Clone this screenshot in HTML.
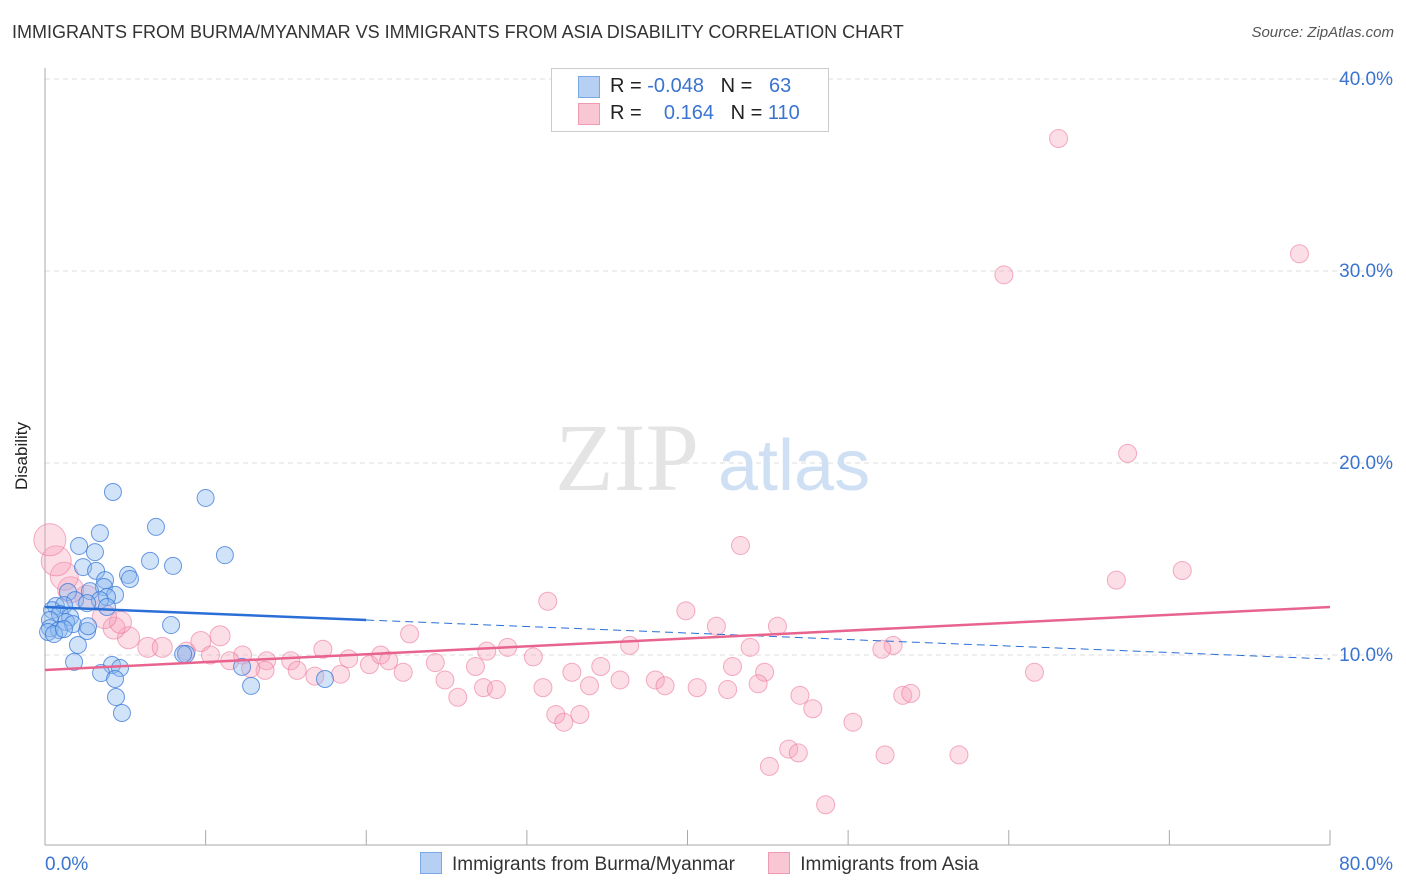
<!DOCTYPE html>
<html><head><meta charset="utf-8">
<style>
body{margin:0;background:#fff;font-family:"Liberation Sans",sans-serif;}
#wrap{position:relative;width:1406px;height:892px;overflow:hidden;}
.t{position:absolute;white-space:nowrap;}
</style></head>
<body>
<div id="wrap">
<div class="t" style="left:12px;top:22px;font-size:18px;color:#333;">IMMIGRANTS FROM BURMA/MYANMAR VS IMMIGRANTS FROM ASIA DISABILITY CORRELATION CHART</div>
<div class="t" style="right:12px;top:24px;font-size:15px;color:#555;font-style:italic;">Source: ZipAtlas.com</div>
<div class="t" style="left:-12px;top:446px;font-size:17px;color:#222;transform:rotate(-90deg);">Disability</div>
<svg id="svg" width="1406" height="892" style="position:absolute;left:0;top:0;"></svg>
<div style="position:absolute;left:551px;top:68px;width:276px;height:62px;border:1px solid #ccc;background:#fff;font-size:20px;">
 <div style="position:absolute;left:26px;top:7px;width:20px;height:20px;background:#b5d0f3;border:1px solid #7aa8e6;"></div>
 <div class="t" style="left:58px;top:6px;color:#222;">R = <span style="color:#3a74d0">-0.048</span>&nbsp;&nbsp;&nbsp;N = &nbsp;&nbsp;<span style="color:#3a74d0">63</span></div>
 <div style="position:absolute;left:26px;top:34px;width:20px;height:20px;background:#f9c6d4;border:1px solid #ee9ab2;"></div>
 <div class="t" style="left:58px;top:33px;color:#222;">R = &nbsp;&nbsp;&nbsp;<span style="color:#3a74d0">0.164</span>&nbsp;&nbsp;&nbsp;N = <span style="color:#3a74d0">110</span></div>
</div>
<div style="position:absolute;left:420px;top:852px;font-size:19px;color:#333;">
 <span style="display:inline-block;width:20px;height:20px;background:#b5d0f3;border:1px solid #7aa8e6;vertical-align:-4px;margin-right:10px;"></span><span>Immigrants from Burma/Myanmar</span>
 <span style="display:inline-block;width:20px;height:20px;background:#f9c6d4;border:1px solid #ee9ab2;vertical-align:-4px;margin:0 10px 0 28px;"></span><span>Immigrants from Asia</span>
</div>
</div>
<script>
const blueX=[4.23,10.0,6.91,3.42,11.2,2.12,3.11,6.54,7.97,2.37,3.18,5.17,5.29,3.74,3.67,1.43,2.8,4.36,3.86,1.87,3.42,2.62,0.68,1.18,3.86,0.44,0.93,1.56,0.31,1.31,1.74,0.31,0.87,0.19,0.56,1.18,2.62,2.68,7.85,2.05,4.17,1.81,3.49,4.67,8.78,12.27,4.36,4.42,4.79,12.83,17.43,8.6];
const blueY=[18.49,18.18,16.67,16.35,15.2,15.68,15.36,14.9,14.64,14.58,14.38,14.17,13.96,13.9,13.54,13.28,13.33,13.13,13.02,12.86,12.86,12.7,12.55,12.6,12.5,12.34,12.14,11.98,11.82,11.72,11.61,11.4,11.3,11.2,11.09,11.35,11.25,11.5,11.56,10.52,9.48,9.64,9.06,9.32,10.05,9.38,8.75,7.81,6.98,8.39,8.75,10.05];
const pinkX=[63.1,78.1,59.7,67.4,43.3,66.7,70.8,31.3,39.9,41.8,45.6,52.8,52.1,43.9,36.4,22.7,28.8,17.3,61.6,42.8,44.8,34.6,32.8,30.4,27.5,24.3,26.8,22.3,20.2,18.9,15.3,15.7,13.8,12.3,10.9,9.7,6.4,7.3,5.2,4.3,4.7,3.7,2.6,1.6,1.2,0.7,0.3,24.9,27.3,28.1,31.0,33.9,35.8,38.0,38.6,40.6,42.5,44.4,47.0,47.8,25.7,31.8,33.3,32.3,50.3,53.4,53.9,46.3,46.9,45.1,52.3,56.9,48.6,16.8,18.4,20.9,21.4,13.7,8.8,12.8,10.3,11.5];
const pinkY=[36.9,30.9,29.8,20.5,15.7,13.9,14.4,12.8,12.3,11.5,11.5,10.5,10.3,10.4,10.5,11.1,10.4,10.3,9.1,9.4,9.1,9.4,9.1,9.9,10.2,9.6,9.4,9.1,9.5,9.8,9.7,9.2,9.7,10.0,11.0,10.7,10.4,10.4,10.9,11.4,11.7,12.0,13.0,13.4,14.1,14.9,16.0,8.7,8.3,8.2,8.3,8.4,8.7,8.7,8.4,8.3,8.2,8.5,7.9,7.2,7.8,6.9,6.9,6.5,6.5,7.9,8.0,5.1,4.9,4.2,4.8,4.8,2.2,8.9,9.0,10.0,9.7,9.2,10.2,9.3,10.0,9.7];
const pinkR=[9,9,9,9,9,9,9,9,9,9,9,9,9,9,9,9,9,9,9,9,9,9,9,9,9,9,9,9,9,9,9,9,9,9,10,10,10,10,11,11,11,12,12,13,14,15,16,9,9,9,9,9,9,9,9,9,9,9,9,9,9,9,9,9,9,9,9,9,9,9,9,9,9,9,9,9,9,9,9,9,9,9];
const blueTrend=[12.5,9.79];
const pinkTrend=[9.22,12.5];
const yTicks=[10,20,30,40];
const xTicks=[0,10,20,30,40,50,60,70,80];

const X=v=>45+v*1285/80, Y=v=>847-v*19.2;
const svg=document.getElementById('svg');
const NS='http://www.w3.org/2000/svg';
function mk(tag,at){const e=document.createElementNS(NS,tag);for(const k in at)e.setAttribute(k,at[k]);svg.appendChild(e);return e;}
for(const t of yTicks){
 const g=mk('line',{x1:45,x2:1395,y1:Y(t),y2:Y(t),stroke:'#ddd','stroke-dasharray':'5,4'});
 
 
 const l=mk('text',{x:1393,y:Y(t)+6,'text-anchor':'end','font-size':19,fill:'#3a74d0','font-family':'Liberation Sans'});
 l.textContent=t.toFixed(1)+'%';
 
 
}
const wm=mk('text',{x:555,y:490,'font-size':96,fill:'#e4e4e4','font-family':'Liberation Serif'});wm.textContent='ZIP';


const wm2=mk('text',{x:718,y:490,'font-size':72,fill:'#cfe0f5','font-family':'Liberation Sans'});wm2.textContent='atlas';


const ya=mk('line',{x1:45,x2:45,y1:68,y2:845,stroke:'#aaa'});


const xa=mk('line',{x1:45,x2:1330,y1:845,y2:845,stroke:'#aaa'});


for(const t of xTicks){const tk=mk('line',{x1:X(t),x2:X(t),y1:830,y2:845,stroke:'#aaa'});
 
 }
const xl0=mk('text',{x:45,y:870,'font-size':19,fill:'#3a74d0','font-family':'Liberation Sans'});xl0.textContent=xTicks[0].toFixed(1)+'%';


const xl1=mk('text',{x:1393,y:870,'text-anchor':'end','font-size':19,fill:'#3a74d0','font-family':'Liberation Sans'});xl1.textContent=xTicks[xTicks.length-1].toFixed(1)+'%';


for(let i=0;i<pinkX.length;i++){const c=mk('circle',{cx:X(pinkX[i]),cy:Y(pinkY[i]),r:pinkR[i],fill:'rgba(246,160,186,0.35)',stroke:'rgba(236,120,156,0.6)','stroke-width':1});
 
 }
for(let i=0;i<blueX.length;i++){const c=mk('circle',{cx:X(blueX[i]),cy:Y(blueY[i]),r:8.5,fill:'rgba(140,185,240,0.4)',stroke:'rgba(58,120,215,0.75)','stroke-width':1});
 
 }
const bAt=v=>blueTrend[0]+(blueTrend[1]-blueTrend[0])*v/80;
const bs=mk('line',{x1:X(0),y1:Y(bAt(0)),x2:X(20),y2:Y(bAt(20)),stroke:'#2a6fd6','stroke-width':2.5});


const bd=mk('line',{x1:X(20),y1:Y(bAt(20)),x2:X(80),y2:Y(bAt(80)),stroke:'#2a6fd6','stroke-width':1,'stroke-dasharray':'8,5'});


const pt=mk('line',{x1:X(0),y1:Y(pinkTrend[0]),x2:X(80),y2:Y(pinkTrend[1]),stroke:'#e8648e','stroke-width':2.5});


</script>
</body></html>
